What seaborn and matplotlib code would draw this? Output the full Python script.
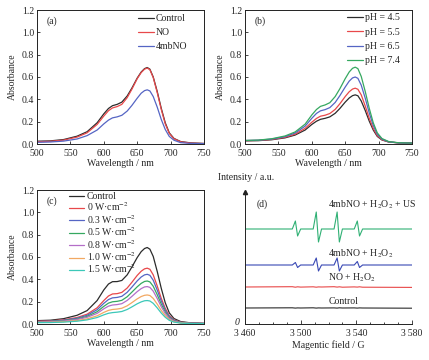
import seaborn as sns
import pandas as pd
import matplotlib.pyplot as plt

# wavelength grid (nm) shared by all UV-vis spectra
wavelength = [500, 520, 540, 560, 575, 590, 600, 607, 613, 620, 627, 635, 642,
              650, 656, 661, 665, 669, 674, 680, 686, 692, 698, 705, 715, 730, 750]

# (a)
a_labels = ["Control", "NO", "4mbNO"]
a_control = [0.025, 0.028, 0.04, 0.07, 0.11, 0.19, 0.27, 0.318, 0.343, 0.355, 0.375, 0.43, 0.50,
             0.59, 0.645, 0.675, 0.685, 0.67, 0.60, 0.47, 0.32, 0.19, 0.10, 0.05, 0.022, 0.01, 0.005]
a_no = [0.02, 0.024, 0.035, 0.062, 0.10, 0.175, 0.25, 0.298, 0.323, 0.335, 0.355, 0.415, 0.49,
        0.585, 0.64, 0.67, 0.68, 0.665, 0.595, 0.46, 0.31, 0.18, 0.095, 0.047, 0.02, 0.008, 0.004]
a_4mbno = [0.015, 0.018, 0.026, 0.045, 0.075, 0.125, 0.18, 0.214, 0.234, 0.243, 0.257, 0.295, 0.345,
           0.41, 0.455, 0.478, 0.485, 0.475, 0.425, 0.33, 0.22, 0.13, 0.068, 0.034, 0.012, 0.005, 0.003]

# (b)
b_labels = ["pH = 4.5", "pH = 5.5", "pH = 6.5", "pH = 7.4"]
b_45 = [0.028, 0.03, 0.038, 0.055, 0.08, 0.125, 0.175, 0.204, 0.221, 0.23, 0.243, 0.275, 0.318,
        0.375, 0.412, 0.433, 0.44, 0.432, 0.385, 0.30, 0.205, 0.125, 0.068, 0.036, 0.018, 0.01, 0.008]
b_55 = [0.03, 0.032, 0.041, 0.06, 0.088, 0.14, 0.195, 0.229, 0.249, 0.258, 0.273, 0.31, 0.36,
        0.425, 0.468, 0.492, 0.50, 0.49, 0.44, 0.34, 0.23, 0.14, 0.075, 0.039, 0.019, 0.01, 0.008]
b_65 = [0.031, 0.034, 0.044, 0.066, 0.098, 0.16, 0.23, 0.274, 0.297, 0.308, 0.326, 0.372, 0.433,
        0.51, 0.563, 0.592, 0.60, 0.588, 0.527, 0.41, 0.278, 0.167, 0.088, 0.044, 0.02, 0.01, 0.008]
b_74 = [0.032, 0.035, 0.047, 0.072, 0.108, 0.178, 0.26, 0.309, 0.337, 0.35, 0.37, 0.425, 0.495,
        0.585, 0.645, 0.678, 0.688, 0.675, 0.605, 0.47, 0.32, 0.19, 0.1, 0.049, 0.022, 0.011, 0.008]

# (c)
c_labels = ["Control", "0 W\u00b7cm$^{-2}$", "0.3 W\u00b7cm$^{-2}$", "0.5 W\u00b7cm$^{-2}$",
            "0.8 W\u00b7cm$^{-2}$", "1.0 W\u00b7cm$^{-2}$", "1.5 W\u00b7cm$^{-2}$"]
c_control = [0.03, 0.034, 0.048, 0.078, 0.12, 0.21, 0.305, 0.358, 0.379, 0.38, 0.39, 0.44, 0.51,
             0.595, 0.648, 0.676, 0.685, 0.67, 0.605, 0.47, 0.32, 0.19, 0.1, 0.049, 0.022, 0.01, 0.006]
c_0 = [0.025, 0.028, 0.038, 0.058, 0.088, 0.145, 0.21, 0.251, 0.269, 0.272, 0.283, 0.322, 0.373,
       0.435, 0.473, 0.494, 0.50, 0.49, 0.44, 0.34, 0.23, 0.14, 0.075, 0.037, 0.017, 0.008, 0.005]
c_03 = [0.022, 0.025, 0.034, 0.052, 0.078, 0.128, 0.185, 0.219, 0.234, 0.238, 0.248, 0.284, 0.33,
        0.386, 0.421, 0.44, 0.445, 0.436, 0.392, 0.303, 0.206, 0.125, 0.067, 0.033, 0.015, 0.007, 0.005]
c_05 = [0.02, 0.022, 0.03, 0.045, 0.068, 0.11, 0.158, 0.187, 0.199, 0.203, 0.212, 0.244, 0.285,
        0.333, 0.364, 0.381, 0.385, 0.377, 0.338, 0.262, 0.178, 0.108, 0.058, 0.029, 0.013, 0.006, 0.004]
c_08 = [0.018, 0.02, 0.027, 0.04, 0.06, 0.095, 0.136, 0.16, 0.17, 0.174, 0.182, 0.211, 0.247,
        0.29, 0.317, 0.332, 0.335, 0.328, 0.294, 0.228, 0.155, 0.094, 0.051, 0.026, 0.011, 0.005, 0.003]
c_10 = [0.014, 0.016, 0.021, 0.031, 0.046, 0.073, 0.104, 0.122, 0.13, 0.134, 0.141, 0.163, 0.191,
        0.225, 0.246, 0.257, 0.26, 0.255, 0.229, 0.178, 0.121, 0.074, 0.04, 0.02, 0.009, 0.004, 0.003]
c_15 = [0.012, 0.013, 0.017, 0.025, 0.037, 0.058, 0.082, 0.096, 0.102, 0.106, 0.112, 0.13, 0.153,
        0.181, 0.198, 0.208, 0.21, 0.206, 0.185, 0.144, 0.098, 0.06, 0.033, 0.017, 0.008, 0.004, 0.003]

# (d) EPR traces, field in G, intensity in arbitrary units (stacked)
field = [3460, 3494, 3496.2, 3497.8, 3500, 3509, 3511.2, 3512.8, 3515,
         3524, 3526.2, 3527.8, 3530, 3538.5, 3540.7, 3542.3, 3544.5, 3580]
epr_us = [95, 95, 103, 88, 95, 95, 112, 82, 95, 95, 112, 82, 95, 95, 103, 88, 95, 95]
epr_h2o2 = [59, 59, 61.5, 56.5, 59, 59, 66, 53, 59, 59, 66, 53, 59, 59, 62.5, 56.5, 59, 59]
epr_no = [37, 37.3, 36.8, 37.2, 36.9, 37.2, 36.8, 37.1, 37, 37.3, 36.9, 37.2, 36.8, 37.1, 36.9, 37.2, 36.8, 36.6]
epr_control = [16, 16.2, 15.9, 16.1, 16, 16.2, 15.9, 16.1, 16, 16.1, 15.9, 16.2, 16, 16.1, 15.9, 16.1, 16, 15.8]
d_labels = ["4mbNO + H$_2$O$_2$ + US", "4mbNO + H$_2$O$_2$", "NO + H$_2$O$_2$", "Control"]

colors7 = ["#2b2b2b", "#e8484a", "#5565c4", "#35a860", "#b46ec8", "#f2a862", "#3cc8b8"]

sns.set_style("ticks")
plt.rcParams["font.family"] = ["Liberation Serif", "DejaVu Serif"]
plt.rcParams["mathtext.fontset"] = "stix"
plt.rcParams["axes.linewidth"] = 0.7
plt.rcParams["axes.edgecolor"] = "#222222"

fig = plt.figure(figsize=(4.29, 3.6), dpi=100)
W, H = 429, 360


def add_axes(l, t, r, b):
    return fig.add_axes([l / W, 1 - b / H, (r - l) / W, (b - t) / H])


def long_df(labels, series):
    rows = []
    for lab, vals in zip(labels, series):
        for x, v in zip(wavelength, vals):
            rows.append({"wl": x, "abs": v, "sample": lab})
    return pd.DataFrame(rows)


def uv_panel(ax, labels, series, tag, leg_x, leg_y, spacing):
    df = long_df(labels, series)
    sns.lineplot(data=df, x="wl", y="abs", hue="sample", hue_order=labels,
                 palette=colors7[:len(labels)], linewidth=0.9, ax=ax, sort=False)
    ax.set_xlim(500, 750)
    ax.set_ylim(0, 1.2)
    ax.set_xticks([500, 550, 600, 650, 700, 750])
    ax.set_yticks([0.0, 0.2, 0.4, 0.6, 0.8, 1.0, 1.2])
    ax.set_yticklabels([f"{v:.1f}" for v in ax.get_yticks()])
    ax.tick_params(direction="in", length=2.5, width=0.6, labelsize=7, pad=2)
    ax.tick_params(axis="x", pad=3.5)
    ax.set_xlabel("Wavelength / nm", fontsize=7, labelpad=1)
    ax.set_ylabel("Absorbance", fontsize=7)
    ax.yaxis.set_label_coords(-0.12, 0.5)
    ax.text(0.06, 0.915, tag, transform=ax.transAxes, fontsize=7, va="center")
    ax.legend(loc="upper left", bbox_to_anchor=(leg_x, leg_y), frameon=False,
              fontsize=7, handlelength=1.6, handletextpad=0.25,
              labelspacing=spacing, borderpad=0, borderaxespad=0)


ax_a = add_axes(37, 10, 204, 144)
uv_panel(ax_a, a_labels, [a_control, a_no, a_4mbno], "(a)", 0.605, 0.97, 0.52)

ax_b = add_axes(245, 10, 412, 144)
uv_panel(ax_b, b_labels, [b_45, b_55, b_65, b_74], "(b)", 0.611, 0.975, 0.55)

ax_c = add_axes(37, 190, 204, 324)
uv_panel(ax_c, c_labels, [c_control, c_0, c_03, c_05, c_08, c_10, c_15], "(c)", 0.19, 0.985, -0.05)

# (d) EPR
ax_d = add_axes(245, 192, 412, 324)
epr_rows = []
for lab, vals in zip(d_labels, [epr_us, epr_h2o2, epr_no, epr_control]):
    for x, v in zip(field, vals):
        epr_rows.append({"field": x, "intensity": v, "sample": lab})
epr_df = pd.DataFrame(epr_rows)
sns.lineplot(data=epr_df, x="field", y="intensity", hue="sample", hue_order=d_labels,
             palette=["#2fb074", "#3848b4", "#e84848", "#2b2b2b"], linewidth=0.8,
             ax=ax_d, sort=False, legend=False)
ax_d.set_xlim(3460, 3580)
ax_d.set_ylim(0, 132)
ax_d.spines["top"].set_visible(False)
ax_d.spines["right"].set_visible(False)
ax_d.set_yticks([])
ax_d.set_xticks([3460, 3500, 3540, 3580])
ax_d.set_xticks(range(3470, 3580, 10), minor=True)
ax_d.set_xticklabels(["3\u2009460", "3\u2009500", "3\u2009540", "3\u2009580"])
ax_d.tick_params(axis="x", which="major", direction="in", length=3, width=0.6, labelsize=7, pad=3.5)
ax_d.tick_params(axis="x", which="minor", direction="in", length=1.8, width=0.6)
ax_d.set_xlabel("Magentic field / G", fontsize=7, labelpad=2)
ax_d.set_ylabel("")
ax_d.plot(0, 1, marker="^", color="#222222", markersize=3, transform=ax_d.transAxes, clip_on=False)
ax_d.text(-0.05, 0.01, "0", transform=ax_d.transAxes, fontsize=7, style="italic", ha="center", va="center")
ax_d.text(3468, 120, "(d)", fontsize=7, va="center")
for lab, y in zip(d_labels, [119, 70, 46, 22]):
    ax_d.text(3520, y, lab, fontsize=7, va="center", ha="left")
fig.text(218 / W, 1 - 178 / H, "Intensity / a.u.", fontsize=7, ha="left", va="center")

fig.savefig("out.png", dpi=100)
